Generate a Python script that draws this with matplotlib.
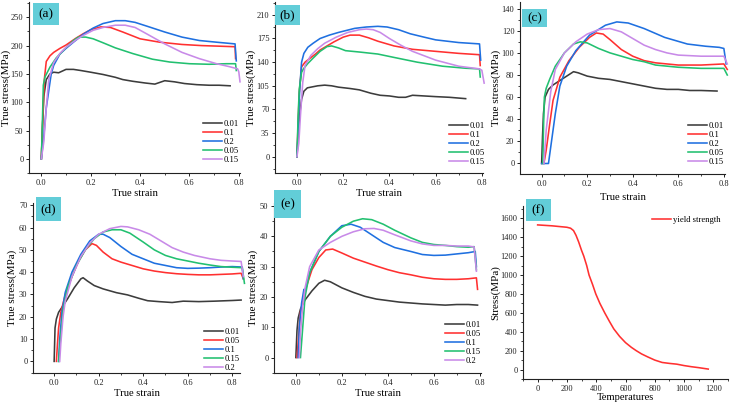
import matplotlib
matplotlib.use("Agg")
import matplotlib.pyplot as plt
from matplotlib.ticker import MultipleLocator, AutoMinorLocator
from matplotlib.patches import Rectangle

plt.rcParams['font.family'] = ['Liberation Serif', 'DejaVu Serif']

W, H = 734, 405

# ---------------- data ----------------
# (a)
a_labels = ['0.01', '0.1', '0.2', '0.05', '0.15']
a_x_001 = [0, 0.005, 0.01, 0.02, 0.035, 0.05, 0.07, 0.1, 0.13, 0.16, 0.2, 0.25, 0.3, 0.33, 0.37, 0.42, 0.46, 0.5, 0.54, 0.58, 0.63, 0.68, 0.72, 0.765]
a_y_001 = [0, 60, 110, 140, 150, 153, 152, 158, 158, 156, 153, 149, 144, 140, 137, 134, 132, 138, 136, 133, 131, 130, 130, 129]
a_x_01 = [0, 0.005, 0.012, 0.02, 0.035, 0.05, 0.075, 0.1, 0.14, 0.17, 0.2, 0.24, 0.28, 0.33, 0.4, 0.48, 0.57, 0.65, 0.72, 0.785, 0.787]
a_y_01 = [0, 60, 140, 172, 182, 188, 195, 201, 213, 221, 228, 233, 232, 224, 212, 206, 202, 200, 199, 198, 177]
a_x_02 = [0, 0.01, 0.02, 0.03, 0.04, 0.05, 0.075, 0.1, 0.13, 0.17, 0.21, 0.25, 0.3, 0.34, 0.38, 0.43, 0.5, 0.57, 0.64, 0.71, 0.785, 0.79]
a_y_02 = [0, 40, 90, 120, 150, 165, 185, 195, 206, 220, 231, 239, 244, 244, 241, 234, 224, 215, 209, 206, 203, 173]
a_x_005 = [0, 0.004, 0.008, 0.015, 0.035, 0.06, 0.09, 0.13, 0.15, 0.18, 0.21, 0.25, 0.3, 0.37, 0.45, 0.52, 0.6, 0.68, 0.75, 0.787, 0.79]
a_y_005 = [0, 60, 130, 145, 162, 178, 192, 209, 215, 215, 212, 205, 196, 186, 176, 171, 168, 167, 168, 168, 156]
a_x_015 = [0, 0.01, 0.02, 0.03, 0.05, 0.075, 0.1, 0.14, 0.17, 0.21, 0.25, 0.3, 0.34, 0.38, 0.43, 0.5, 0.57, 0.64, 0.71, 0.76, 0.795, 0.8, 0.805]
a_y_015 = [0, 30, 90, 140, 170, 186, 197, 210, 218, 227, 232, 236, 236, 232, 220, 203, 188, 177, 168, 163, 159, 154, 136]

# (b)
b_labels = ['0.01', '0.1', '0.2', '0.05', '0.15']
b_x_001 = [0, 0.005, 0.011, 0.02, 0.03, 0.045, 0.06, 0.09, 0.12, 0.15, 0.18, 0.23, 0.27, 0.32, 0.36, 0.4, 0.44, 0.47, 0.5, 0.55, 0.6, 0.66, 0.73]
b_y_001 = [0, 30, 60, 85, 97, 102, 103, 105, 106, 105, 103, 101, 99, 94, 91, 90, 88, 88, 91, 90, 89, 88, 86]
b_x_01 = [0, 0.005, 0.01, 0.02, 0.035, 0.05, 0.08, 0.1, 0.13, 0.16, 0.2, 0.23, 0.27, 0.31, 0.35, 0.42, 0.5, 0.6, 0.7, 0.79, 0.793]
b_y_01 = [0, 50, 95, 133, 140, 144, 152, 158, 164, 170, 177, 180, 180, 176, 171, 164, 159, 156, 153, 151, 135]
b_x_02 = [0, 0.005, 0.012, 0.02, 0.03, 0.047, 0.07, 0.1, 0.14, 0.18, 0.25, 0.3, 0.35, 0.39, 0.44, 0.49, 0.55, 0.6, 0.7, 0.79, 0.795]
b_y_02 = [0, 40, 100, 140, 153, 162, 168, 175, 180, 184, 190, 192, 193, 192, 188, 182, 177, 173, 169, 167, 143]
b_x_005 = [0, 0.005, 0.01, 0.02, 0.03, 0.047, 0.07, 0.1, 0.13, 0.15, 0.18, 0.21, 0.27, 0.35, 0.42, 0.52, 0.63, 0.73, 0.79, 0.793]
b_y_005 = [0, 60, 100, 125, 131, 138, 146, 156, 163, 164, 161, 157, 155, 152, 147, 140, 134, 131, 130, 118]
b_x_015 = [0, 0.008, 0.015, 0.025, 0.035, 0.06, 0.09, 0.12, 0.17, 0.22, 0.27, 0.3, 0.33, 0.36, 0.4, 0.45, 0.5, 0.6, 0.7, 0.79, 0.8, 0.81]
b_y_015 = [0, 20, 60, 110, 135, 150, 160, 168, 177, 184, 188, 189, 188, 184, 175, 165, 156, 143, 134, 130, 128, 109]

# (c)
c_labels = ['0.01', '0.1', '0.2', '0.05', '0.15']
c_x_001 = [0, 0.004, 0.008, 0.015, 0.03, 0.05, 0.08, 0.11, 0.14, 0.16, 0.2, 0.25, 0.3, 0.35, 0.4, 0.45, 0.5, 0.55, 0.6, 0.65, 0.7, 0.77]
c_y_001 = [0, 25, 45, 60, 67, 71, 75, 79, 83, 82, 79, 77, 76, 74, 72, 70, 68, 67, 67, 66, 66, 65.5]
c_x_01 = [0.01, 0.02, 0.035, 0.05, 0.08, 0.12, 0.165, 0.21, 0.24, 0.27, 0.3, 0.35, 0.4, 0.45, 0.5, 0.55, 0.6, 0.7, 0.8, 0.815]
c_y_01 = [0, 12, 35, 57, 78, 93, 105, 114, 118, 117, 112, 103, 97, 93, 91, 90, 89, 89, 90, 85]
c_x_02 = [0, 0.03, 0.04, 0.06, 0.08, 0.11, 0.15, 0.21, 0.28, 0.33, 0.38, 0.45, 0.54, 0.64, 0.72, 0.78, 0.8, 0.81]
c_y_02 = [0, 0, 15, 45, 70, 88, 102, 116, 125, 128, 127, 122, 114, 108, 106, 105, 104, 90]
c_x_005 = [0.005, 0.008, 0.012, 0.02, 0.035, 0.06, 0.1, 0.14, 0.17, 0.2, 0.25, 0.3, 0.35, 0.4, 0.45, 0.5, 0.55, 0.6, 0.7, 0.8, 0.815]
c_y_005 = [0, 30, 60, 68, 76, 88, 100, 108, 110, 109, 104, 100, 97, 94, 92, 89, 88, 87, 86, 86, 80]
c_x_015 = [0.01, 0.02, 0.04, 0.06, 0.1, 0.15, 0.2, 0.25, 0.3, 0.35, 0.4, 0.45, 0.5, 0.55, 0.6, 0.7, 0.8, 0.815]
c_y_015 = [0, 30, 65, 85, 100, 110, 117, 121, 122, 119, 113, 107, 103, 100, 98, 97, 97, 90]

# (d)
d_labels = ['0.01', '0.05', '0.1', '0.15', '0.2']
d_x_001 = [0, 0.004, 0.01, 0.02, 0.04, 0.06, 0.09, 0.12, 0.13, 0.15, 0.18, 0.22, 0.28, 0.33, 0.38, 0.42, 0.47, 0.53, 0.58, 0.65, 0.72, 0.8, 0.84]
d_y_001 = [0, 15, 19, 22, 25, 28, 33, 37, 37.5, 36, 34, 32.5, 30.8, 29.8, 28.3, 27.2, 26.8, 26.4, 27, 26.8, 27, 27.3, 27.5]
d_x_005 = [0.01, 0.015, 0.02, 0.03, 0.05, 0.08, 0.11, 0.14, 0.17, 0.19, 0.22, 0.26, 0.3, 0.35, 0.4, 0.45, 0.5, 0.55, 0.6, 0.65, 0.7, 0.75, 0.8, 0.84, 0.85]
d_y_005 = [0, 8, 15, 22, 30, 38, 45, 50, 52.8, 52, 49, 46, 44.5, 43, 41.5, 40.5, 39.8, 39.3, 39, 38.8, 38.8, 39, 39.2, 39.5, 37]
d_x_01 = [0.02, 0.025, 0.035, 0.05, 0.08, 0.12, 0.16, 0.2, 0.22, 0.25, 0.3, 0.35, 0.4, 0.45, 0.5, 0.55, 0.6, 0.65, 0.7, 0.75, 0.8, 0.845, 0.85]
d_y_01 = [0, 10, 22, 31, 40, 48, 54, 57, 57, 55.5, 51.5, 48, 46, 44, 43, 42, 41.7, 41.8, 42, 42.3, 42.5, 42.3, 37]
d_x_015 = [0.02, 0.03, 0.04, 0.06, 0.1, 0.14, 0.18, 0.22, 0.26, 0.3, 0.34, 0.4, 0.45, 0.5, 0.55, 0.6, 0.65, 0.7, 0.75, 0.8, 0.845, 0.855]
d_y_015 = [0, 12, 23, 33, 43, 50, 55, 58, 59, 59, 57.5, 53.5, 50, 47.5, 46, 45, 44, 43.2, 42.5, 42.2, 42, 35]
d_x_02 = [0.025, 0.03, 0.04, 0.05, 0.08, 0.12, 0.16, 0.2, 0.25, 0.3, 0.33, 0.38, 0.43, 0.48, 0.53, 0.58, 0.63, 0.7, 0.75, 0.8, 0.84, 0.85]
d_y_02 = [0, 8, 20, 27, 38, 47, 53, 57, 59.5, 60.5, 60.3, 59, 57, 54, 51, 49, 47.5, 46, 45.3, 45, 44.8, 38]

# (e)
e_labels = ['0.01', '0.05', '0.1', '0.15', '0.2']
e_x_001 = [0, 0.005, 0.01, 0.02, 0.04, 0.07, 0.1, 0.125, 0.15, 0.2, 0.25, 0.3, 0.35, 0.4, 0.45, 0.5, 0.55, 0.6, 0.65, 0.7, 0.75, 0.79]
e_y_001 = [0, 9, 13, 16, 19, 22, 24.5, 25.5, 25, 23, 21.5, 20.2, 19.3, 18.8, 18.3, 18, 17.7, 17.5, 17.3, 17.5, 17.5, 17.3]
e_x_005 = [0.005, 0.01, 0.02, 0.04, 0.07, 0.1, 0.13, 0.16, 0.2, 0.25, 0.3, 0.35, 0.4, 0.45, 0.5, 0.55, 0.6, 0.65, 0.7, 0.75, 0.785, 0.79]
e_y_005 = [0, 5, 15, 22, 29, 33, 35.5, 35.8, 34.5, 32.8, 31.5, 30.2, 29, 28, 27.3, 26.5, 26, 25.8, 25.8, 26, 26.3, 22.5]
e_x_01 = [0.01, 0.015, 0.025, 0.035, 0.04, 0.06, 0.1, 0.15, 0.2, 0.24, 0.28, 0.33, 0.38, 0.43, 0.5, 0.55, 0.6, 0.65, 0.7, 0.75, 0.78, 0.785]
e_y_01 = [0, 10, 18, 22.5, 22, 28, 35, 40, 43.5, 44, 43, 40.5, 38, 36.3, 35, 34, 33.7, 33.8, 34.2, 34.6, 35, 30]
e_x_015 = [0.02, 0.03, 0.04, 0.06, 0.1, 0.15, 0.2, 0.25, 0.29, 0.33, 0.38, 0.43, 0.5, 0.55, 0.6, 0.65, 0.7, 0.75, 0.775, 0.785]
e_y_015 = [0, 10, 20, 28, 35, 40, 43, 45, 45.8, 45.5, 44, 42, 39.5, 38, 37.3, 37, 36.6, 36.4, 36.6, 29]
e_x_02 = [0.015, 0.02, 0.03, 0.04, 0.06, 0.1, 0.15, 0.2, 0.25, 0.3, 0.34, 0.38, 0.43, 0.5, 0.55, 0.6, 0.65, 0.7, 0.75, 0.775, 0.785]
e_y_02 = [0, 8, 17, 23, 30, 35.5, 38, 40, 41.5, 42.5, 42.6, 42, 40.5, 38.5, 37.5, 37, 37, 36.8, 36.8, 36.5, 28.5]

# (f)
f_temp = [0, 100, 200, 225, 245, 262, 280, 300, 315, 335, 351, 375, 397, 425, 458, 490, 520, 560, 600, 640, 673, 710, 750, 800, 850, 900, 950, 1000, 1050, 1100, 1165]
f_stress = [1530, 1520, 1505, 1495, 1470, 1420, 1350, 1260, 1200, 1100, 1000, 900, 800, 700, 600, 510, 430, 350, 285, 235, 200, 165, 135, 100, 75, 65, 57, 42, 30, 20, 5]

# ---------------- style ----------------
C_BLACK = '#3c3c3c'
C_RED = '#ff3030'
C_BLUE = '#1f70e0'
C_GREEN = '#22c070'
C_PURPLE = '#c88ae8'
BOX = '#62cdd8'

fig = plt.figure(figsize=(W / 100, H / 100), dpi=100)


def add_ax(l, r, b, t):
    return fig.add_axes([l / W, 1 - b / H, (r - l) / W, (b - t) / H])


def style(ax, xlim, ylim, xmaj, ymaj, xlabel, ylabel, ylab_x, xlab_y):
    ax.set_xlim(*xlim)
    ax.set_ylim(*ylim)
    for s in ['top', 'right']:
        ax.spines[s].set_visible(False)
    for s in ['left', 'bottom']:
        ax.spines[s].set_linewidth(0.8)
        ax.spines[s].set_color('#222222')
    ax.xaxis.set_major_locator(MultipleLocator(xmaj))
    ax.yaxis.set_major_locator(MultipleLocator(ymaj))
    ax.xaxis.set_minor_locator(AutoMinorLocator(2))
    ax.yaxis.set_minor_locator(AutoMinorLocator(2))
    ax.tick_params(which='major', direction='out', length=2.5, width=0.7,
                   labelsize=6.0, pad=1.5, colors='#222222')
    ax.tick_params(which='minor', direction='out', length=1.5, width=0.6, colors='#222222')
    ax.set_xlabel(xlabel, fontsize=7.6)
    ax.set_ylabel(ylabel, fontsize=8.0)
    inv = ax.transAxes.inverted()
    px, _ = inv.transform(fig.transFigure.transform((ylab_x / W, 0.5)))
    _, py = inv.transform(fig.transFigure.transform((0.5, 1 - xlab_y / H)))
    ax.yaxis.set_label_coords(px, 0.5)
    ax.xaxis.set_label_coords(0.5, py)
    ax.xaxis.label.set_verticalalignment('center')
    ax.yaxis.label.set_verticalalignment('center')


def legend(ax, x, y, **kw):
    ax.legend(loc='upper left', bbox_to_anchor=(x / W, 1 - y / H),
              bbox_transform=fig.transFigure, frameon=False, fontsize=6.2,
              handlelength=2.2, handletextpad=0.25, labelspacing=0.12,
              borderpad=0, borderaxespad=0, **kw)


def tag(text, l, r, t, b):
    fig.patches.append(Rectangle((l / W, 1 - b / H), (r - l) / W, (b - t) / H,
                                 transform=fig.transFigure, facecolor=BOX,
                                 edgecolor='none', zorder=5))
    fig.text((l + r) / 2 / W, 1 - (t + b) / 2 / H, text, ha='center', va='center',
             fontsize=9.5, zorder=6)


def plot_set(ax, xs, ys, colors, labels):
    for x, y, c, lab in zip(xs, ys, colors, labels):
        ax.plot(x, y, color=c, lw=1.15, label=lab, clip_on=False)


# (a)
ax = add_ax(29, 240, 173, 2)
plot_set(ax, [a_x_001, a_x_01, a_x_02, a_x_005, a_x_015],
         [a_y_001, a_y_01, a_y_02, a_y_005, a_y_015],
         [C_BLACK, C_RED, C_BLUE, C_GREEN, C_PURPLE], a_labels)
style(ax, (-0.05, 0.805), (-25, 277), 0.2, 50, 'True strain', 'True stress(MPa)', 6, 193)
legend(ax, 203, 120)
tag('(a)', 33, 59, 3, 25)

# (b)
ax = add_ax(275, 483, 173, 2)
plot_set(ax, [b_x_001, b_x_01, b_x_02, b_x_005, b_x_015],
         [b_y_001, b_y_01, b_y_02, b_y_005, b_y_015],
         [C_BLACK, C_RED, C_BLUE, C_GREEN, C_PURPLE], b_labels)
style(ax, (-0.095, 0.805), (-24, 229), 0.2, 35, 'True strain', 'True stress(MPa)', 251, 193)
legend(ax, 449, 122)
tag('(b)', 275, 300, 5, 25)

# (c)
ax = add_ax(520, 725, 174, 2)
plot_set(ax, [c_x_001, c_x_01, c_x_02, c_x_005, c_x_015],
         [c_y_001, c_y_01, c_y_02, c_y_005, c_y_015],
         [C_BLACK, C_RED, C_BLUE, C_GREEN, C_PURPLE], c_labels)
style(ax, (-0.095, 0.805), (-9.5, 146), 0.2, 20, 'True strain', 'True stress(MPa)', 496, 197)
legend(ax, 688, 122)
tag('(c)', 522, 547, 9, 27)

# (d)
ax = add_ax(33, 240, 373, 203)
plot_set(ax, [d_x_001, d_x_005, d_x_01, d_x_015, d_x_02],
         [d_y_001, d_y_005, d_y_01, d_y_015, d_y_02],
         [C_BLACK, C_RED, C_BLUE, C_GREEN, C_PURPLE], d_labels)
style(ax, (-0.095, 0.835), (-5.2, 71), 0.2, 10, 'True strain', 'True stress(MPa)', 12, 393)
legend(ax, 204, 328)
tag('(d)', 36, 61, 197, 221)

# (e)
ax = add_ax(274, 481, 373, 203)
plot_set(ax, [e_x_001, e_x_005, e_x_01, e_x_015, e_x_02],
         [e_y_001, e_y_005, e_y_01, e_y_015, e_y_02],
         [C_BLACK, C_RED, C_BLUE, C_GREEN, C_PURPLE], e_labels)
style(ax, (-0.095, 0.805), (-5.1, 51), 0.2, 10, 'True strain', 'True stress(MPa)', 253, 393)
legend(ax, 445, 321)
tag('(e)', 274, 301, 190, 218)

# (f)
ax = add_ax(523, 728, 379, 206)
ax.plot(f_temp, f_stress, color=C_RED, lw=1.15, label='yield strength')
style(ax, (-100, 1300), (-100, 1730), 200, 200, 'Temperatures', 'Stress(MPa)', 495, 397)
legend(ax, 652, 216)
tag('(f)', 526, 551, 199, 221)

fig.savefig('out.png', dpi=100)
